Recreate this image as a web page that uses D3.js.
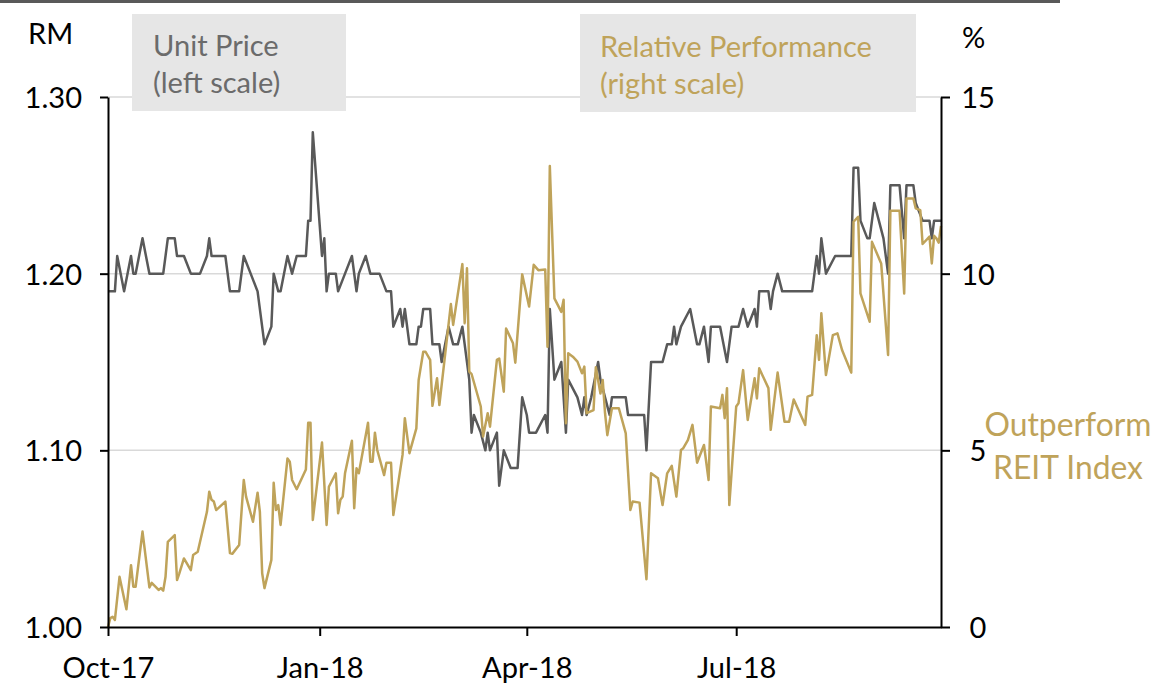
<!DOCTYPE html>
<html><head><meta charset="utf-8">
<script src="https://cdn.jsdelivr.net/npm/d3@7"></script>
<style>body{margin:0;background:#fff;} svg{display:block;} text{font-family:Lato,"Open Sans",sans-serif;}</style>
</head><body><svg id="c" width="1153" height="693"></svg>
<script>
// ---------------- DATA ----------------
const unitPrice = [
["2017-10-01",1.19],["2017-10-04",1.19],["2017-10-05",1.21],["2017-10-08",1.19],["2017-10-11",1.21],["2017-10-12",1.20],
["2017-10-13",1.20],["2017-10-16",1.22],["2017-10-19",1.20],["2017-10-25",1.20],["2017-10-27",1.22],["2017-10-30",1.22],
["2017-10-31",1.21],["2017-11-03",1.21],["2017-11-06",1.20],["2017-11-10",1.20],["2017-11-13",1.21],["2017-11-14",1.22],
["2017-11-15",1.21],["2017-11-21",1.21],["2017-11-23",1.19],["2017-11-27",1.19],["2017-11-29",1.21],["2017-12-02",1.20],
["2017-12-05",1.19],["2017-12-08",1.16],["2017-12-11",1.17],["2017-12-12",1.20],["2017-12-14",1.19],["2017-12-15",1.19],
["2017-12-18",1.21],["2017-12-20",1.20],["2017-12-22",1.21],["2017-12-26",1.21],["2017-12-27",1.23],["2017-12-28",1.23],
["2017-12-29",1.28],["2018-01-02",1.21],["2018-01-03",1.22],["2018-01-04",1.19],["2018-01-05",1.20],["2018-01-08",1.20],
["2018-01-09",1.19],["2018-01-12",1.20],["2018-01-15",1.21],["2018-01-17",1.19],["2018-01-18",1.20],["2018-01-21",1.21],
["2018-01-23",1.20],["2018-01-27",1.20],["2018-01-30",1.19],["2018-02-01",1.19],["2018-02-02",1.17],["2018-02-05",1.18],
["2018-02-06",1.17],["2018-02-07",1.18],["2018-02-09",1.16],["2018-02-12",1.16],["2018-02-13",1.17],["2018-02-14",1.17],
["2018-02-15",1.18],["2018-02-18",1.18],["2018-02-19",1.16],["2018-02-22",1.16],["2018-02-23",1.15],["2018-02-26",1.17],
["2018-02-28",1.16],["2018-03-02",1.16],["2018-03-04",1.17],["2018-03-06",1.15],["2018-03-07",1.14],["2018-03-08",1.11],
["2018-03-09",1.12],["2018-03-12",1.11],["2018-03-14",1.10],["2018-03-15",1.11],["2018-03-16",1.10],["2018-03-19",1.11],
["2018-03-20",1.08],["2018-03-22",1.10],["2018-03-25",1.09],["2018-03-28",1.09],["2018-03-30",1.13],["2018-04-01",1.12],
["2018-04-02",1.11],["2018-04-05",1.11],["2018-04-09",1.12],["2018-04-10",1.11],["2018-04-11",1.18],["2018-04-12",1.16],
["2018-04-13",1.14],["2018-04-16",1.15],["2018-04-18",1.11],["2018-04-19",1.14],["2018-04-23",1.13],["2018-04-25",1.12],
["2018-04-26",1.13],["2018-04-27",1.12],["2018-04-29",1.13],["2018-05-02",1.15],["2018-05-03",1.14],["2018-05-05",1.13],
["2018-05-07",1.12],["2018-05-08",1.13],["2018-05-14",1.13],["2018-05-15",1.12],["2018-05-22",1.12],["2018-05-23",1.10],
["2018-05-25",1.15],["2018-05-30",1.15],["2018-06-01",1.16],["2018-06-03",1.16],["2018-06-04",1.17],["2018-06-05",1.16],
["2018-06-07",1.17],["2018-06-11",1.18],["2018-06-14",1.16],["2018-06-15",1.16],["2018-06-17",1.17],["2018-06-19",1.15],
["2018-06-20",1.17],["2018-06-24",1.17],["2018-06-27",1.15],["2018-06-29",1.17],["2018-07-02",1.17],["2018-07-04",1.18],
["2018-07-06",1.17],["2018-07-09",1.18],["2018-07-10",1.17],["2018-07-11",1.19],["2018-07-15",1.19],["2018-07-16",1.18],
["2018-07-17",1.19],["2018-07-19",1.20],["2018-07-21",1.19],["2018-08-03",1.19],["2018-08-04",1.20],["2018-08-05",1.21],
["2018-08-06",1.20],["2018-08-07",1.22],["2018-08-09",1.20],["2018-08-13",1.21],["2018-08-20",1.21],["2018-08-21",1.26],
["2018-08-23",1.26],["2018-08-24",1.23],["2018-08-27",1.22],["2018-08-28",1.22],["2018-08-30",1.24],["2018-09-01",1.23],
["2018-09-03",1.22],["2018-09-05",1.20],["2018-09-06",1.25],["2018-09-10",1.25],["2018-09-12",1.22],["2018-09-13",1.25],
["2018-09-16",1.25],["2018-09-17",1.24],["2018-09-20",1.23],["2018-09-23",1.23],["2018-09-24",1.22],["2018-09-25",1.23],
["2018-09-28",1.23]
];
const relativePerformance = [
["2017-10-01",0.0],["2017-10-02",0.25],["2017-10-03",0.29],["2017-10-04",0.2],["2017-10-06",1.42],["2017-10-09",0.5],
["2017-10-11",1.75],["2017-10-12",1.14],["2017-10-13",1.14],["2017-10-16",2.7],["2017-10-19",1.12],["2017-10-20",1.25],
["2017-10-23",1.05],["2017-10-24",1.1],["2017-10-25",1.03],["2017-10-26",1.42],["2017-10-27",2.41],["2017-10-30",2.6],
["2017-10-31",1.33],["2017-11-01",1.52],["2017-11-03",1.94],["2017-11-06",1.61],["2017-11-07",2.04],["2017-11-09",2.13],
["2017-11-13",3.26],["2017-11-14",3.83],["2017-11-15",3.6],["2017-11-16",3.55],["2017-11-17",3.31],["2017-11-21",3.55],
["2017-11-23",2.09],["2017-11-24",2.07],["2017-11-27",2.32],["2017-11-29",4.16],["2017-11-30",3.69],["2017-12-03",2.98],
["2017-12-05",3.8],["2017-12-06",3.26],["2017-12-07",1.52],["2017-12-08",1.1],["2017-12-11",1.9],["2017-12-12",4.08],
["2017-12-13",3.31],["2017-12-14",3.45],["2017-12-15",2.89],["2017-12-18",4.77],["2017-12-19",4.68],["2017-12-20",4.16],
["2017-12-22",3.9],["2017-12-26",4.46],["2017-12-27",5.78],["2017-12-28",5.78],["2017-12-29",3.03],["2018-01-02",5.22],
["2018-01-04",2.89],["2018-01-05",3.97],["2018-01-08",4.35],["2018-01-09",3.22],["2018-01-10",3.6],["2018-01-11",3.69],
["2018-01-12",4.35],["2018-01-15",5.27],["2018-01-16",3.36],["2018-01-17",4.49],["2018-01-18",4.35],["2018-01-22",5.78],
["2018-01-23",4.68],["2018-01-24",4.68],["2018-01-25",5.5],["2018-01-26",5.01],["2018-01-29",4.3],["2018-01-30",4.65],
["2018-02-01",4.65],["2018-02-02",3.17],["2018-02-06",4.87],["2018-02-07",5.91],["2018-02-09",4.92],["2018-02-12",5.62],
["2018-02-13",6.99],["2018-02-15",7.79],["2018-02-16",7.79],["2018-02-18",7.56],["2018-02-19",6.26],["2018-02-21",7.04],
["2018-02-22",6.28],["2018-02-27",9.14],["2018-02-28",8.55],["2018-03-04",10.27],["2018-03-05",8.6],["2018-03-06",10.15],
["2018-03-07",7.23],["2018-03-08",7.16],["2018-03-12",6.24],["2018-03-13",5.39],["2018-03-15",6.05],["2018-03-16",5.67],
["2018-03-19",7.56],["2018-03-20",7.6],["2018-03-22",6.66],["2018-03-23",8.45],["2018-03-26",8.03],["2018-03-27",7.48],
["2018-03-30",9.98],["2018-04-02",9.07],["2018-04-04",10.25],["2018-04-06",10.1],["2018-04-09",10.12],["2018-04-10",7.93],
["2018-04-11",13.05],["2018-04-13",9.3],["2018-04-16",8.92],["2018-04-17",9.26],["2018-04-18",5.77],["2018-04-19",7.75],
["2018-04-21",7.65],["2018-04-23",7.51],["2018-04-25",7.18],["2018-04-26",7.37],["2018-04-27",6.05],["2018-04-30",6.14],
["2018-05-01",7.35],["2018-05-03",6.61],["2018-05-04",6.99],["2018-05-05",6.05],["2018-05-06",5.43],["2018-05-08",6.19],
["2018-05-11",6.19],["2018-05-14",5.48],["2018-05-16",3.31],["2018-05-17",3.55],["2018-05-20",3.52],["2018-05-23",1.35],
["2018-05-25",4.35],["2018-05-28",4.21],["2018-05-30",3.45],["2018-06-01",4.35],["2018-06-03",4.56],["2018-06-05",3.69],
["2018-06-07",5.01],["2018-06-08",5.06],["2018-06-10",5.29],["2018-06-12",5.72],["2018-06-14",4.65],["2018-06-15",4.82],
["2018-06-17",5.15],["2018-06-19",4.16],["2018-06-20",6.24],["2018-06-24",6.19],["2018-06-25",6.57],["2018-06-26",5.91],
["2018-06-27",6.76],["2018-06-28",3.45],["2018-07-01",6.24],["2018-07-02",6.33],["2018-07-04",7.27],["2018-07-06",5.86],
["2018-07-09",7.04],["2018-07-10",6.47],["2018-07-11",7.32],["2018-07-15",6.76],["2018-07-16",5.58],["2018-07-19",7.2],
["2018-07-22",5.81],["2018-07-24",5.81],["2018-07-26",6.44],["2018-07-31",5.72],["2018-08-01",6.52],["2018-08-03",6.57],
["2018-08-05",8.26],["2018-08-06",7.56],["2018-08-07",8.88],["2018-08-09",7.13],["2018-08-12",8.26],["2018-08-14",8.31],
["2018-08-16",7.84],["2018-08-20",7.2],["2018-08-21",11.47],["2018-08-23",11.61],["2018-08-24",9.44],["2018-08-28",8.64],
["2018-08-29",10.9],["2018-09-02",10.29],["2018-09-05",7.7],["2018-09-06",11.78],["2018-09-10",11.78],["2018-09-12",9.44],
["2018-09-13",12.13],["2018-09-16",12.13],["2018-09-17",11.85],["2018-09-19",11.8],["2018-09-20",10.84],["2018-09-23",11.05],
["2018-09-24",10.29],["2018-09-25",11.07],["2018-09-26",11.0],["2018-09-27",10.88],["2018-09-28",11.35]
];
const leftTicks = [1.00, 1.10, 1.20, 1.30];
const rightTicks = [0, 5, 10, 15];
const xTickDates = ["2017-10-01","2018-01-01","2018-04-01","2018-07-01"];
const xTickLabels = ["Oct-17","Jan-18","Apr-18","Jul-18"];
const xDomain = ["2017-10-01","2018-09-28"];

// ---------------- LAYOUT ----------------
const W = 1153, H = 693;
const L = 108, R = 941, T = 97, B = 627;
const GRAY = "#595959", GOLD = "#bfa35a", GRID = "#d9d9d9";
const parse = d3.timeParse("%Y-%m-%d");
const svg = d3.select("#c");

// fit font size: Calibri-like text sized to reference widths
function fitSize(str, target){
  const t = svg.append("text").attr("font-size",100).text(str);
  const w = t.node().getComputedTextLength(); t.remove();
  return 100*target/w;
}
const FS = fitSize("Relative Performance", 272);
const FS2 = fitSize("REIT Index", 150);

const x = d3.scaleTime().domain(xDomain.map(parse)).range([L, R]);
const yL = d3.scaleLinear().domain([1.0, 1.3]).range([B, T]);
const yR = d3.scaleLinear().domain([0, 15]).range([B, T]);

// top bar
svg.append("rect").attr("x",0).attr("y",0).attr("width",1060).attr("height",3).attr("fill",GRAY);

// gridlines
svg.append("g").selectAll("line").data(leftTicks.slice(1)).join("line")
  .attr("x1",L).attr("x2",R).attr("y1",d=>yL(d)).attr("y2",d=>yL(d))
  .attr("stroke",GRID).attr("stroke-width",1.5);

// lines
const lp = d3.line().x(d=>x(parse(d[0]))).y(d=>yL(d[1]));
const lr = d3.line().x(d=>x(parse(d[0]))).y(d=>yR(d[1]));
svg.append("path").attr("d",lp(unitPrice)).attr("fill","none").attr("stroke",GRAY)
  .attr("stroke-width",2.5).attr("stroke-linejoin","round");
svg.append("path").attr("d",lr(relativePerformance)).attr("fill","none").attr("stroke",GOLD)
  .attr("stroke-width",2.5).attr("stroke-linejoin","round");

// axes
function styleAxis(g){
  g.selectAll("path,line").attr("stroke","#000").attr("stroke-width",2);
  g.selectAll("text").attr("font-size",FS).attr("fill","#000").attr("font-family","Lato");
}
const gl = svg.append("g").attr("transform",`translate(${L},0)`)
  .call(d3.axisLeft(yL).tickValues(leftTicks).tickSize(8).tickSizeOuter(0).tickPadding(18).tickFormat(d3.format(".2f")));
styleAxis(gl);
gl.selectAll("text").attr("dy","0.36em");
const gr = svg.append("g").attr("transform",`translate(${R},0)`)
  .call(d3.axisRight(yR).tickValues(rightTicks).tickSize(9).tickSizeOuter(0).tickFormat(d3.format("d")));
styleAxis(gr);
gr.selectAll("text").attr("text-anchor","middle").attr("x",37).attr("dy","0.36em");
const gb = svg.append("g").attr("transform",`translate(0,${B})`)
  .call(d3.axisBottom(x).tickValues(xTickDates.map(parse)).tickSize(9).tickSizeOuter(0)
    .tickFormat((d,i)=>xTickLabels[i]));
styleAxis(gb);
gb.selectAll("text").attr("y",51).attr("dy",0);

// axis titles
svg.append("text").attr("x",28).attr("y",44).attr("font-size",FS).text("RM");
svg.append("text").attr("x",962).attr("y",48).attr("font-size",FS).text("%");

// legend boxes
svg.append("rect").attr("x",132).attr("y",14).attr("width",214).attr("height",97).attr("fill","#e6e6e6");
svg.append("text").attr("x",153).attr("y",56).attr("font-size",FS).attr("fill","#6b6b6b").text("Unit Price");
svg.append("text").attr("x",153).attr("y",93).attr("font-size",FS).attr("fill","#6b6b6b").text("(left scale)");
svg.append("rect").attr("x",580).attr("y",14).attr("width",336).attr("height",98).attr("fill","#e6e6e6");
svg.append("text").attr("x",600).attr("y",57).attr("font-size",FS).attr("fill",GOLD).text("Relative Performance");
svg.append("text").attr("x",600).attr("y",94).attr("font-size",FS).attr("fill",GOLD).text("(right scale)");

// annotation
svg.append("text").attr("x",1068).attr("y",436).attr("text-anchor","middle").attr("font-size",FS2).attr("fill",GOLD).text("Outperform");
svg.append("text").attr("x",1068).attr("y",479).attr("text-anchor","middle").attr("font-size",FS2).attr("fill",GOLD).text("REIT Index");
</script>
</body></html>
